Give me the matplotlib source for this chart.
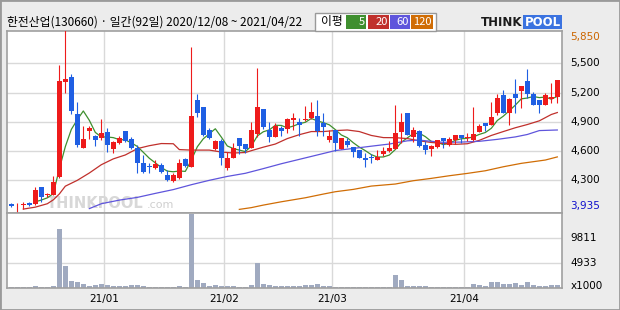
import matplotlib
matplotlib.use('Agg')
import matplotlib.pyplot as plt
from matplotlib.patches import Rectangle
import pandas as pd

plt.rcParams['font.family'] = ['Noto Sans CJK KR', 'DejaVu Sans']

title = '한전산업(130660) · 일간(92일) 2020/12/08 ~ 2021/04/22'

# daily candles, index 0 = 2020/12/08
opens = [4055, 4043, 4050, 4070, 4053, 4231, 4152, 4149, 4333, 5305,
         5359, 4980, 4628, 4809, 4754, 4737, 4798, 4624, 4679, 4805,
         4727, 4634, 4474, 4439, 4426, 4460, 4350, 4296, 4326, 4515,
         4439, 5123, 5048, 4816, 4617, 4703, 4422, 4532, 4733, 4672,
         4634, 4778, 5031, 4816, 4747, 4839, 4822, 4918, 4898, 4918,
         4935, 4959, 4891, 4713, 4816, 4624, 4703, 4645, 4610, 4525,
         4542, 4511, 4573, 4600, 4621, 4795, 4990, 4747, 4805, 4662,
         4617, 4641, 4733, 4662, 4713, 4761, 4730, 4713, 4798, 4884,
         4867, 4987, 5175, 4993, 5182, 5216, 5318, 5182, 5123, 5072,
         5134, 5158]
highs = [4065, 4070, 4077, 4077, 4234, 4231, 4173, 4344, 5479, 5850,
         5394, 5103, 4860, 4860, 4764, 4928, 4840, 4703, 4754, 4805,
         4740, 4662, 4559, 4480, 4508, 4480, 4405, 4371, 4515, 4525,
         5664, 5185, 5048, 4833, 4713, 4720, 4593, 4679, 4733, 4672,
         4898, 5455, 5031, 4898, 4884, 4860, 4939, 4990, 4939, 5062,
         5103, 5123, 4990, 4816, 4816, 4737, 4730, 4645, 4610, 4576,
         4569, 4610, 4645, 4703, 5072, 4990, 4990, 4846, 4816, 4703,
         4662, 4713, 4733, 4740, 4761, 4761, 4781, 5048, 4877, 4884,
         5103, 5185, 5223, 5141, 5339, 5267, 5438, 5209, 5123, 5199,
         5301, 5329]
lows = [4025, 3935, 4002, 4040, 4050, 4074, 4125, 4149, 4320, 5199,
        4980, 4638, 4628, 4720, 4651, 4713, 4593, 4583, 4672, 4696,
        4617, 4371, 4371, 4371, 4419, 4371, 4296, 4285, 4310, 4439,
        4439, 4946, 4754, 4720, 4610, 4456, 4405, 4532, 4569, 4576,
        4627, 4747, 4829, 4696, 4747, 4754, 4788, 4816, 4754, 4911,
        4928, 4754, 4754, 4696, 4604, 4617, 4645, 4542, 4525, 4433,
        4480, 4511, 4549, 4590, 4617, 4679, 4764, 4696, 4638, 4569,
        4549, 4627, 4634, 4652, 4669, 4686, 4706, 4703, 4798, 4805,
        4867, 4970, 4993, 4867, 4993, 5045, 5141, 5072, 4993, 5072,
        5096, 5096]
closes = [4040, 4050, 4060, 4050, 4197, 4132, 4162, 4279, 5318, 5335,
          5014, 4665, 4723, 4840, 4713, 4781, 4665, 4689, 4737, 4703,
          4627, 4480, 4388, 4433, 4467, 4385, 4299, 4354, 4474, 4446,
          4959, 4987, 4764, 4730, 4703, 4532, 4532, 4631, 4652, 4624,
          4816, 5052, 4846, 4747, 4860, 4809, 4928, 4939, 4867, 4932,
          5004, 4805, 4850, 4754, 4686, 4730, 4662, 4593, 4532, 4504,
          4525, 4539, 4597, 4631, 4785, 4898, 4764, 4816, 4652, 4610,
          4652, 4713, 4703, 4723, 4761, 4730, 4740, 4771, 4853, 4857,
          4946, 5140, 4993, 5130, 5147, 5267, 5182, 5072, 5072, 5175,
          5158, 5329]
# volume, x1000 shares
volume = [200, 200, 200, 200, 400, 200, 200, 400, 11680, 4356,
          1386, 1188, 792, 396, 594, 792, 594, 396, 396, 396,
          594, 594, 396, 200, 200, 200, 200, 200, 400, 200,
          14500, 1584, 990, 396, 594, 396, 396, 396, 200, 200,
          594, 4950, 858, 594, 396, 396, 396, 396, 396, 594,
          594, 792, 396, 396, 200, 200, 200, 200, 200, 200,
          200, 200, 200, 200, 2574, 1584, 396, 396, 396, 396,
          200, 200, 200, 200, 200, 200, 200, 792, 594, 396,
          1188, 1188, 792, 792, 990, 594, 1188, 594, 396, 396,
          594, 594]

# longer averages (they need history before 12/08)
ma20_idx = [2, 4, 6, 7, 8, 9, 11, 13, 15, 17, 19, 21, 23, 25, 27, 28, 30, 33,
            35, 37, 39, 40, 42, 44, 46, 48, 50, 52, 54, 56, 58, 60, 62, 64, 66,
            68, 70, 72, 74, 76, 78, 80, 82, 84, 86, 88, 90, 91]
ma20_val = [4005, 4025, 4060, 4100, 4160, 4240, 4300, 4375, 4460, 4520, 4560,
            4625, 4655, 4677, 4675, 4615, 4610, 4610, 4590, 4580, 4585, 4604,
            4640, 4672, 4728, 4768, 4800, 4800, 4810, 4816, 4800, 4760, 4738,
            4737, 4728, 4705, 4688, 4678, 4669, 4675, 4710, 4760, 4800, 4839,
            4872, 4910, 4975, 4995]
ma60_idx = [13, 15, 18, 21, 24, 27, 30, 33, 36, 39, 42, 45, 48, 51, 54, 57, 60,
            63, 66, 68, 70, 72, 75, 78, 81, 84, 86, 88, 91]
ma60_val = [4010, 4060, 4097, 4125, 4166, 4205, 4255, 4300, 4340, 4372, 4420,
            4470, 4515, 4560, 4605, 4627, 4650, 4672, 4705, 4712, 4700, 4690,
            4692, 4700, 4720, 4745, 4770, 4810, 4816]
ma120_idx = [38, 40, 42, 45, 49, 52, 54, 57, 60, 64, 67, 70, 73, 76, 79, 82, 85,
             89, 91]
ma120_val = [4002, 4020, 4046, 4080, 4121, 4159, 4183, 4207, 4241, 4262, 4296,
             4320, 4347, 4371, 4398, 4439, 4474, 4508, 4540]

month_idx = [16, 36, 54, 76]
month_labels = ['21/01', '21/02', '21/03', '21/04']
price_ticks = [4300, 4600, 4900, 5200, 5500]
vol_ticks = [4933, 9811]

RED = '#ee1b1b'
BLUE = '#1f5fe3'
GRID = '#d9d9d9'
FRAME = '#a0a0a0'
ma_colors = ['#3f8f2f', '#c0302c', '#5f55dc', '#d06d05']
ma_names = ['5', '20', '60', '120']

W, H = 620, 310
def fx(x):
    return x / W
def fy(y):
    return 1 - y / H

fig = plt.figure(figsize=(6.2, 3.1), dpi=100, facecolor='#ececec')
ax = fig.add_axes([fx(7.3), fy(212.7), fx(555), 181.7 / H])
axv = fig.add_axes([fx(7.3), fy(288), fx(555), 75.3 / H])

for a in (ax, axv):
    a.set_facecolor('white')
    a.set_xlim(-0.67, 91.83)
    a.set_xticks([])
    a.set_yticks([])
    for s in a.spines.values():
        s.set_color(FRAME)
        s.set_linewidth(1.2)
    for m in month_idx:
        a.axvline(m - 0.5, color=GRID, lw=1, zorder=0)

ax.set_ylim(3968, 5831)
axv.set_ylim(0, 14800)

num_font = dict(fontsize=7.5, family='DejaVu Sans')
for p in price_ticks:
    ax.axhline(p, color=GRID, lw=1, zorder=0)
    ax.text(1.015, p, f'{p:,}', transform=ax.get_yaxis_transform(),
            ha='left', va='center', color='black', **num_font)
ax.text(1.015, 0.967, f'{max(highs):,}', transform=ax.transAxes,
        ha='left', va='center', color='#cc6600', **num_font)
ax.text(1.015, 0.035, f'{min(lows):,}', transform=ax.transAxes,
        ha='left', va='center', color='#1010cc', **num_font)

# watermark
ax.text(6.0, 0.053, 'THINKPOOL', transform=ax.get_xaxis_transform(),
        fontsize=10.5, fontweight='bold', color='#d8d8d8', family='DejaVu Sans',
        va='center', ha='left', zorder=1.5)
ax.text(22.6, 0.045, '.com', transform=ax.get_xaxis_transform(),
        fontsize=8, color='#cfcfcf', family='DejaVu Sans',
        va='center', ha='left', zorder=1.5)

# moving averages
ma5 = pd.Series(closes).rolling(5).mean()
ax.plot(range(len(closes)), ma5, color=ma_colors[0], lw=0.9, zorder=2)
ax.plot(ma20_idx, ma20_val, color=ma_colors[1], lw=0.9, zorder=2)
ax.plot(ma60_idx, ma60_val, color=ma_colors[2], lw=0.9, zorder=2)
ax.plot(ma120_idx, ma120_val, color=ma_colors[3], lw=0.9, zorder=2)

# candles
for i, (o, h, l, c) in enumerate(zip(opens, highs, lows, closes)):
    col = RED if c >= o else BLUE
    ax.vlines(i, l, h, color=col, lw=0.8, zorder=3)
    body = max(abs(c - o), 9)
    ax.bar(i, body, bottom=min(o, c), width=0.78, color=col, lw=0, zorder=4)

# volume
for v in vol_ticks:
    axv.axhline(v, color=GRID, lw=1, zorder=0)
    axv.text(1.015, v, str(v), transform=axv.get_yaxis_transform(),
             ha='left', va='center', **num_font)
axv.text(1.015, 0.02, 'x1000', transform=axv.transAxes,
         ha='left', va='center', **num_font)
axv.bar(range(len(volume)), volume, width=0.8, color='#a0aac0', lw=0, zorder=2)

for m, lab in zip(month_idx, month_labels):
    axv.text(m - 0.5, -0.15, lab, transform=axv.get_xaxis_transform(),
             ha='center', va='center', **num_font)

# header
fig.text(fx(7), fy(22), title, fontsize=8.5, ha='left', va='center')
fig.patches.append(Rectangle((fx(315), fy(30.7)), fx(121), 18 / H,
                             transform=fig.transFigure, fc='white',
                             ec='#999999', lw=1))
fig.text(fx(321), fy(22), '이평', fontsize=8.5, ha='left', va='center')
box_x = [346, 368, 390, 411]
box_w = [20, 21, 20, 22]
for x0, w, col, name in zip(box_x, box_w, ma_colors, ma_names):
    fig.patches.append(Rectangle((fx(x0), fy(28.7)), fx(w), 14 / H,
                                 transform=fig.transFigure, fc=col, lw=0))
    fig.text(fx(x0 + w - 1.5), fy(22), name, fontsize=8, color='white',
             ha='right', va='center')

# logo
fig.text(fx(481), fy(22), 'THINK', fontsize=8.5, fontweight='bold',
         family='DejaVu Sans', color='#1a1a1a', ha='left', va='center')
fig.patches.append(Rectangle((fx(523), fy(28.5)), fx(39), 13.5 / H,
                             transform=fig.transFigure, fc='#3b73e0', lw=0))
fig.text(fx(542.5), fy(22), 'POOL', fontsize=8.5, fontweight='bold',
         family='DejaVu Sans', color='white', ha='center', va='center')

# outer frame
fig.patches.append(Rectangle((0, 0), 1, 1, transform=fig.transFigure,
                             fill=False, ec='#9a9a9a', lw=2))

fig.savefig('out.png', dpi=100, facecolor=fig.get_facecolor())
